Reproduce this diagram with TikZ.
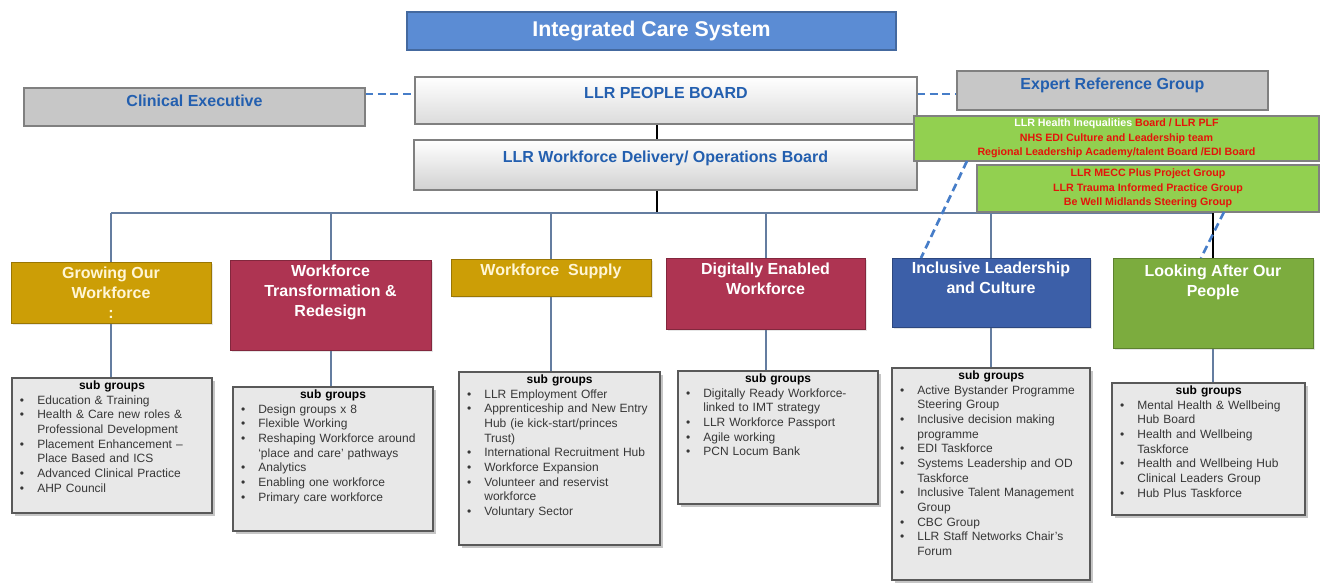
\documentclass[tikz,border=0pt]{standalone}
\usepackage{fontspec}
\setmainfont{Liberation Sans}
\usetikzlibrary{positioning, shadows, backgrounds}

\definecolor{icsblue}{RGB}{91,140,212}
\definecolor{boardtext}{RGB}{35,95,175}
\definecolor{erggreen}{RGB}{146,208,80}
\definecolor{ergred}{RGB}{228,20,10}
\definecolor{wsgold}{RGB}{204,158,6}
\definecolor{wscrimson}{RGB}{174,52,82}
\definecolor{wsblue}{RGB}{60,95,168}
\definecolor{wsgreen}{RGB}{124,172,62}
\definecolor{linkblue}{RGB}{100,125,160}
\definecolor{dashblue}{RGB}{70,125,200}
\definecolor{subfill}{RGB}{232,232,232}
\definecolor{subtext}{RGB}{55,55,55}
\definecolor{paleyellow}{RGB}{255,246,214}

% bullet item and heading for the sub group boxes
\newcommand{\sgi}[1]{\par\hangindent=17pt\hangafter=1\noindent\makebox[17pt][l]{\hspace{4pt}\textbullet}#1\par}
\newcommand{\sghead}{{\centering\bfseries\color{black}sub groups\par}}

\begin{document}
\begin{tikzpicture}[x=0.75pt, y=-0.75pt,
  every node/.style={inner sep=0pt, outer sep=0pt},
  board/.style={draw=black!50, line width=0.8pt, anchor=north west, text=boardtext, font=\bfseries\fontsize{12}{14}\selectfont},
  ergbox/.style={draw=black!50, fill=erggreen, line width=0.8pt, anchor=north west, align=center, text=ergred, font=\bfseries\fontsize{8}{11}\selectfont},
  catbox/.style={draw=#1!75!black, fill=#1, line width=0.6pt, anchor=north west, drop shadow={opacity=0.2, shadow xshift=1.5pt, shadow yshift=-1.5pt}},
  cattxt/.style={anchor=north, align=center, text=white, font=\bfseries\fontsize{12}{15}\selectfont},
  subbox/.style={draw=black!65, fill=subfill, line width=1pt, anchor=north west, drop shadow={opacity=0.45, shadow xshift=2pt, shadow yshift=-2pt}},
  subtxt/.style={anchor=north west, align=left, text=subtext, font=\fontsize{9}{11}\selectfont},
  link/.style={draw=linkblue, line width=1.5pt},
  trunk/.style={draw=black, line width=2pt},
  dashlink/.style={draw=dashblue, line width=2pt, dash pattern=on 6pt off 3.5pt}
]
\useasboundingbox (0,0) rectangle (1322,584);

% Boards at the top
\node[board, fill=icsblue, draw=icsblue!75!black, text=white, font=\bfseries\fontsize{16}{18}\selectfont,
  minimum width=366.75pt, minimum height=28.5pt] (ics) at (407,12) {Integrated Care System};
\node[board, fill=black!22, minimum width=255.75pt, minimum height=28.5pt, text depth=9pt] (clin) at (24,88) {Clinical Executive};
\node[board, top color=white, bottom color=black!14, minimum width=376.5pt, minimum height=35.25pt, text depth=11pt] (people) at (415,77) {LLR PEOPLE BOARD};
\node[board, fill=black!22, minimum width=233.25pt, minimum height=29.25pt, text depth=10pt] (expert) at (957,71) {Expert Reference Group};
\node[board, top color=white, bottom color=black!18, minimum width=377.25pt, minimum height=37.5pt, text depth=13pt] (delivery) at (414,140) {LLR Workforce Delivery/ Operations Board};

% Expert groups
\node[ergbox, minimum width=303.75pt, minimum height=33.75pt] (erg1) at (914,116)
  {{\color{white}LLR Health Inequalities }Board / LLR PLF\\NHS EDI Culture and Leadership team\\Regional Leadership Academy/talent Board /EDI Board};
\node[ergbox, minimum width=256.5pt, minimum height=35.25pt] (erg2) at (977,165)
  {LLR MECC Plus Project Group\\LLR Trauma Informed Practice Group\\Be Well Midlands Steering Group};

% Workstreams
\node[catbox=wsgold, minimum width=150pt, minimum height=45.75pt] (grow) at (11,262) {};
\node[catbox=wscrimson, minimum width=150.75pt, minimum height=67.5pt] (trans) at (230,260) {};
\node[catbox=wsgold, minimum width=150pt, minimum height=27.75pt] (supply) at (451,259) {};
\node[catbox=wscrimson, minimum width=149.25pt, minimum height=53.25pt] (digital) at (666,258) {};
\node[catbox=wsblue, minimum width=148.5pt, minimum height=51.75pt] (incl) at (892,258) {};
\node[catbox=wsgreen, minimum width=150pt, minimum height=67.5pt] (care) at (1113,258) {};

\node[cattxt, text=paleyellow] (growtxt) at ([yshift=-4pt]grow.north) {Growing Our\\Workforce\\:};
\node[cattxt] (transtxt) at ([yshift=-4pt]trans.north) {Workforce\\Transformation \&\\Redesign};
\node[cattxt, text=paleyellow] (supplytxt) at ([yshift=-4pt]supply.north) {Workforce~~Supply};
\node[cattxt] (digitaltxt) at ([yshift=-4pt]digital.north) {Digitally Enabled\\Workforce};
\node[cattxt] (incltxt) at ([yshift=-3pt]incl.north) {Inclusive Leadership\\and Culture};
\node[cattxt] (caretxt) at ([yshift=-5pt]care.north) {Looking After Our\\People};

% Sub groups
\node[subbox, minimum width=150pt, minimum height=101.25pt] (sgA) at (12,378) {};
\node[subtxt, text width=146pt] (sgAtxt) at ([xshift=2pt, yshift=-2pt]sgA.north west) {\sghead
  \sgi{Education \& Training}
  \sgi{Health \& Care new roles \&\newline Professional Development}
  \sgi{Placement Enhancement --\newline Place Based and ICS}
  \sgi{Advanced Clinical Practice}
  \sgi{AHP Council}};

\node[subbox, minimum width=150pt, minimum height=108pt] (sgB) at (233,387) {};
\node[subtxt, text width=146pt] (sgBtxt) at ([xshift=2pt, yshift=-2pt]sgB.north west) {\sghead
  \sgi{Design groups x 8}
  \sgi{Flexible Working}
  \sgi{Reshaping Workforce around\newline ‘place and care’ pathways}
  \sgi{Analytics}
  \sgi{Enabling one workforce}
  \sgi{Primary care workforce}};

\node[subbox, minimum width=150.75pt, minimum height=129.75pt] (sgC) at (459,372) {};
\node[subtxt, text width=147pt] (sgCtxt) at ([xshift=2pt, yshift=-2pt]sgC.north west) {\sghead
  \sgi{LLR Employment Offer}
  \sgi{Apprenticeship and New Entry\newline Hub (ie kick-start/princes\newline Trust)}
  \sgi{International Recruitment Hub}
  \sgi{Workforce Expansion}
  \sgi{Volunteer and reservist\newline workforce}
  \sgi{Voluntary Sector}};

\node[subbox, minimum width=150pt, minimum height=99.75pt] (sgD) at (678,371) {};
\node[subtxt, text width=146pt] (sgDtxt) at ([xshift=2pt, yshift=-2pt]sgD.north west) {\sghead
  \sgi{Digitally Ready Workforce-\newline linked to IMT strategy}
  \sgi{LLR Workforce Passport}
  \sgi{Agile working}
  \sgi{PCN Locum Bank}};

\node[subbox, minimum width=148.5pt, minimum height=159pt] (sgE) at (892,368) {};
\node[subtxt, text width=145pt] (sgEtxt) at ([xshift=2pt, yshift=-2pt]sgE.north west) {\sghead
  \sgi{Active Bystander Programme\newline Steering Group}
  \sgi{Inclusive decision making\newline programme}
  \sgi{EDI Taskforce}
  \sgi{Systems Leadership and OD\newline Taskforce}
  \sgi{Inclusive Talent Management\newline Group}
  \sgi{CBC Group}
  \sgi{LLR Staff Networks Chair's\newline Forum}};

\node[subbox, minimum width=144.75pt, minimum height=99pt] (sgF) at (1112,383) {};
\node[subtxt, text width=141pt] (sgFtxt) at ([xshift=2pt, yshift=-2pt]sgF.north west) {\sghead
  \sgi{Mental Health \& Wellbeing\newline Hub Board}
  \sgi{Health and Wellbeing\newline Taskforce}
  \sgi{Health and Wellbeing Hub\newline Clinical Leaders Group}
  \sgi{Hub Plus Taskforce}};

% Connectors
\coordinate (dashy) at (0,94);
\coordinate (spine) at (657,0);
\coordinate (bary) at (0,213);
\coordinate (dashA) at (967,0);
\coordinate (dashB) at (921,0);
\coordinate (dashC) at (1224,0);
\coordinate (dashD) at (1201,0);
\begin{scope}[on background layer]
\draw[dashlink] (clin.east |- dashy) -- (people.west |- dashy);
\draw[dashlink] (people.east |- dashy) -- (expert.west |- dashy);
\draw[trunk] (people.south -| spine) -- (delivery.north -| spine);
\draw[trunk] (delivery.south -| spine) -- (spine |- bary);
\draw[link] (grow.north |- bary) -- (care.north |- bary);
\foreach \c in {grow,trans,supply,digital,incl}
  \draw[link] (\c.north) -- (\c.north |- bary);
\draw[trunk] (care.north) -- (care.north |- bary);
\foreach \c/\s in {grow/sgA,trans/sgB,supply/sgC,digital/sgD,incl/sgE,care/sgF}
  \draw[link] (\c.south) -- (\c.south |- \s.north);
\end{scope}
\draw[dashlink] (erg1.south -| dashA) -- (incl.north -| dashB);
\draw[dashlink] (erg2.south -| dashC) -- (care.north -| dashD);
\end{tikzpicture}
\end{document}
